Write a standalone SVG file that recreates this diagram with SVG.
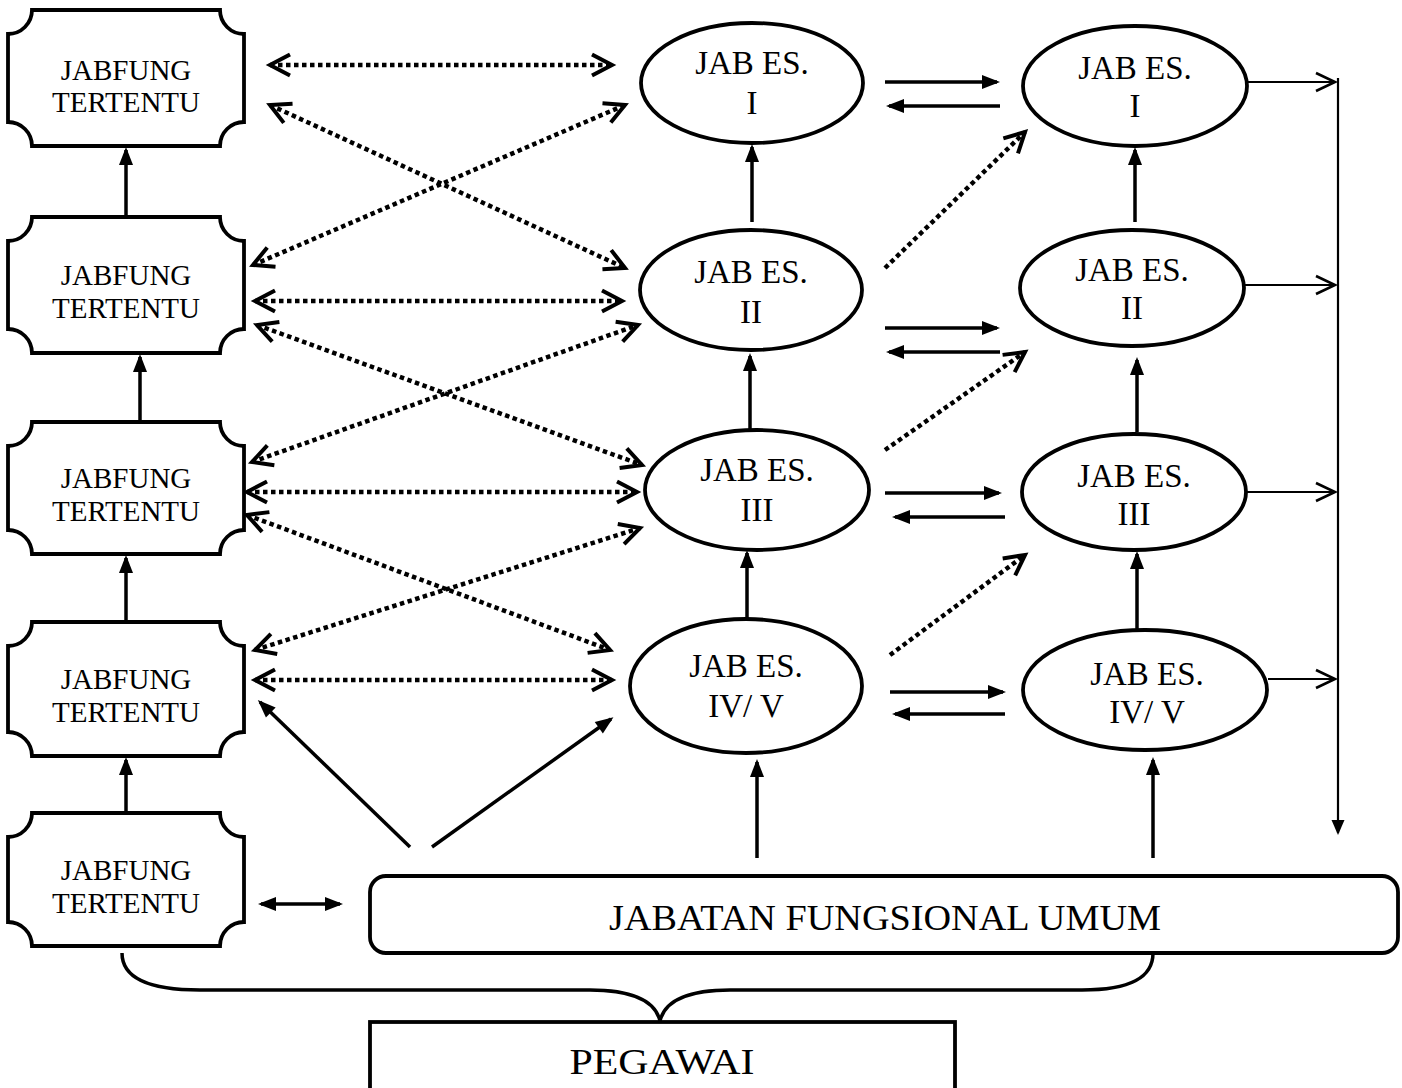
<svg xmlns="http://www.w3.org/2000/svg" width="1402" height="1088" viewBox="0 0 1402 1088">
<style>
text{font-family:"Liberation Serif","Times New Roman",serif;fill:#000;text-anchor:middle}
.bt{font-size:29px}
.et{font-size:33px}
.big{font-size:36px}
.shape{fill:#fff;stroke:#000;stroke-width:3.8}
.dot{fill:none;stroke:#000;stroke-width:4.5;stroke-dasharray:4.5 3.5}
.sol{fill:none;stroke:#000;stroke-width:3.5}
.thin{fill:none;stroke:#000;stroke-width:2.2}
.brace{fill:none;stroke:#000;stroke-width:3.5}
</style>
<defs>
<marker id="chev" markerUnits="userSpaceOnUse" markerWidth="30" markerHeight="30" refX="22" refY="12" orient="auto-start-reverse" overflow="visible">
<path d="M2,1.5 L22,12 L2,22.5" fill="none" stroke="#000" stroke-width="4"/>
</marker>
<marker id="tri" markerUnits="userSpaceOnUse" markerWidth="20" markerHeight="16" refX="15" refY="7" orient="auto-start-reverse" overflow="visible">
<path d="M0,0 L18,7 L0,14 Z" fill="#000"/>
</marker>
<marker id="tchev" markerUnits="userSpaceOnUse" markerWidth="24" markerHeight="22" refX="20" refY="9" orient="auto" overflow="visible">
<path d="M1,0 L20,9 L1,18" fill="none" stroke="#000" stroke-width="2.6"/>
</marker>
<marker id="ttri" markerUnits="userSpaceOnUse" markerWidth="16" markerHeight="14" refX="13" refY="6.5" orient="auto" overflow="visible">
<path d="M0,0 L15,6.5 L0,13 Z" fill="#000"/>
</marker>
</defs>

<g id="connectors">
<line class="sol" x1="126" y1="217" x2="126" y2="150" marker-end="url(#tri)"/>
<line class="sol" x1="140" y1="422" x2="140" y2="357" marker-end="url(#tri)"/>
<line class="sol" x1="126" y1="622" x2="126" y2="558" marker-end="url(#tri)"/>
<line class="sol" x1="126" y1="813" x2="126" y2="760" marker-end="url(#tri)"/>
<line class="sol" x1="752" y1="222" x2="752" y2="147" marker-end="url(#tri)"/>
<line class="sol" x1="750" y1="430" x2="750" y2="356" marker-end="url(#tri)"/>
<line class="sol" x1="747" y1="619" x2="747" y2="553" marker-end="url(#tri)"/>
<line class="sol" x1="1135" y1="222" x2="1135" y2="150" marker-end="url(#tri)"/>
<line class="sol" x1="1137" y1="432" x2="1137" y2="360" marker-end="url(#tri)"/>
<line class="sol" x1="1137" y1="630" x2="1137" y2="554" marker-end="url(#tri)"/>
<line class="sol" x1="757" y1="858" x2="757" y2="762" marker-end="url(#tri)"/>
<line class="sol" x1="1153" y1="858" x2="1153" y2="760" marker-end="url(#tri)"/>
<line class="sol" x1="885" y1="82" x2="997" y2="82" marker-end="url(#tri)"/>
<line class="sol" x1="1000" y1="106" x2="889" y2="106" marker-end="url(#tri)"/>
<line class="sol" x1="885" y1="328" x2="997" y2="328" marker-end="url(#tri)"/>
<line class="sol" x1="1000" y1="352" x2="889" y2="352" marker-end="url(#tri)"/>
<line class="sol" x1="885" y1="493" x2="999" y2="493" marker-end="url(#tri)"/>
<line class="sol" x1="1005" y1="517" x2="895" y2="517" marker-end="url(#tri)"/>
<line class="sol" x1="890" y1="692" x2="1003" y2="692" marker-end="url(#tri)"/>
<line class="sol" x1="1005" y1="714" x2="895" y2="714" marker-end="url(#tri)"/>
<line class="dot" x1="885" y1="268" x2="1025" y2="132" marker-end="url(#chev)"/>
<line class="dot" x1="885" y1="450" x2="1025" y2="352" marker-end="url(#chev)"/>
<line class="dot" x1="890" y1="655" x2="1025" y2="555" marker-end="url(#chev)"/>
<line class="dot" x1="270" y1="65" x2="612" y2="65" marker-start="url(#chev)" marker-end="url(#chev)"/>
<line class="dot" x1="270" y1="105" x2="625" y2="268" marker-start="url(#chev)" marker-end="url(#chev)"/>
<line class="dot" x1="253" y1="265" x2="625" y2="105" marker-start="url(#chev)" marker-end="url(#chev)"/>
<line class="dot" x1="255" y1="301" x2="622" y2="301" marker-start="url(#chev)" marker-end="url(#chev)"/>
<line class="dot" x1="257" y1="325" x2="642" y2="465" marker-start="url(#chev)" marker-end="url(#chev)"/>
<line class="dot" x1="252" y1="462" x2="638" y2="325" marker-start="url(#chev)" marker-end="url(#chev)"/>
<line class="dot" x1="247" y1="492" x2="637" y2="492" marker-start="url(#chev)" marker-end="url(#chev)"/>
<line class="dot" x1="247" y1="515" x2="610" y2="650" marker-start="url(#chev)" marker-end="url(#chev)"/>
<line class="dot" x1="255" y1="650" x2="640" y2="528" marker-start="url(#chev)" marker-end="url(#chev)"/>
<line class="dot" x1="255" y1="680" x2="612" y2="680" marker-start="url(#chev)" marker-end="url(#chev)"/>
<line class="sol" x1="410" y1="847" x2="260" y2="702" marker-end="url(#tri)"/>
<line class="sol" x1="432" y1="847" x2="611" y2="719" marker-end="url(#tri)"/>
<line class="sol" x1="261" y1="904" x2="340" y2="904" marker-start="url(#tri)" marker-end="url(#tri)"/>
<line class="thin" x1="1247" y1="82" x2="1335" y2="82" marker-end="url(#tchev)"/>
<line class="thin" x1="1245" y1="285" x2="1335" y2="285" marker-end="url(#tchev)"/>
<line class="thin" x1="1245" y1="492" x2="1335" y2="492" marker-end="url(#tchev)"/>
<line class="thin" x1="1268" y1="679" x2="1335" y2="679" marker-end="url(#tchev)"/>
<line class="thin" x1="1338" y1="78" x2="1338" y2="833" marker-end="url(#ttri)"/>
<path class="brace" d="M122,953 C122,978 150,990 200,990 L590,990 C632,990 655,1000 660,1021 C665,1000 688,990 730,990 L1082,990 C1130,990 1153,978 1153,953"/>
</g>

<g id="jabfung1">
<path class="shape" d="M32,10 H220 A24,24 0 0 0 244,34 V122 A24,24 0 0 0 220,146 H32 A24,24 0 0 0 8,122 V34 A24,24 0 0 0 32,10 Z"/>
<text class="bt" x="126" y="80">JABFUNG</text>
<text class="bt" x="126" y="112">TERTENTU</text>
</g>
<g id="jabfung2">
<path class="shape" d="M32,217 H220 A24,24 0 0 0 244,241 V329 A24,24 0 0 0 220,353 H32 A24,24 0 0 0 8,329 V241 A24,24 0 0 0 32,217 Z"/>
<text class="bt" x="126" y="285">JABFUNG</text>
<text class="bt" x="126" y="318">TERTENTU</text>
</g>
<g id="jabfung3">
<path class="shape" d="M32,422 H220 A24,24 0 0 0 244,446 V530 A24,24 0 0 0 220,554 H32 A24,24 0 0 0 8,530 V446 A24,24 0 0 0 32,422 Z"/>
<text class="bt" x="126" y="488">JABFUNG</text>
<text class="bt" x="126" y="521">TERTENTU</text>
</g>
<g id="jabfung4">
<path class="shape" d="M32,622 H220 A24,24 0 0 0 244,646 V732 A24,24 0 0 0 220,756 H32 A24,24 0 0 0 8,732 V646 A24,24 0 0 0 32,622 Z"/>
<text class="bt" x="126" y="689">JABFUNG</text>
<text class="bt" x="126" y="722">TERTENTU</text>
</g>
<g id="jabfung5">
<path class="shape" d="M32,813 H220 A24,24 0 0 0 244,837 V922 A24,24 0 0 0 220,946 H32 A24,24 0 0 0 8,922 V837 A24,24 0 0 0 32,813 Z"/>
<text class="bt" x="126" y="880">JABFUNG</text>
<text class="bt" x="126" y="913">TERTENTU</text>
</g>

<g id="es1-mid">
<ellipse class="shape" cx="752" cy="83" rx="111" ry="60"/>
<text class="et" x="752" y="74">JAB ES.</text>
<text class="et" x="752" y="114">I</text>
</g>
<g id="es2-mid">
<ellipse class="shape" cx="751" cy="290" rx="111" ry="60"/>
<text class="et" x="751" y="283">JAB ES.</text>
<text class="et" x="751" y="323">II</text>
</g>
<g id="es3-mid">
<ellipse class="shape" cx="757" cy="490" rx="112" ry="60"/>
<text class="et" x="757" y="481">JAB ES.</text>
<text class="et" x="757" y="521">III</text>
</g>
<g id="es4-mid">
<ellipse class="shape" cx="746" cy="686" rx="116" ry="67"/>
<text class="et" x="746" y="677">JAB ES.</text>
<text class="et" x="746" y="717">IV/ V</text>
</g>

<g id="es1-right">
<ellipse class="shape" cx="1135" cy="86" rx="112" ry="60"/>
<text class="et" x="1135" y="79">JAB ES.</text>
<text class="et" x="1135" y="117">I</text>
</g>
<g id="es2-right">
<ellipse class="shape" cx="1132" cy="288" rx="112" ry="58"/>
<text class="et" x="1132" y="281">JAB ES.</text>
<text class="et" x="1132" y="319">II</text>
</g>
<g id="es3-right">
<ellipse class="shape" cx="1134" cy="492" rx="112" ry="58"/>
<text class="et" x="1134" y="487">JAB ES.</text>
<text class="et" x="1134" y="525">III</text>
</g>
<g id="es4-right">
<ellipse class="shape" cx="1145" cy="690" rx="122" ry="60"/>
<text class="et" x="1147" y="685">JAB ES.</text>
<text class="et" x="1147" y="723">IV/ V</text>
</g>

<g id="jfu">
<rect class="shape" x="370" y="876" width="1028" height="77" rx="16"/>
<text class="big" x="885" y="930" textLength="552" lengthAdjust="spacingAndGlyphs">JABATAN FUNGSIONAL UMUM</text>
</g>
<g id="pegawai">
<rect class="shape" x="370" y="1022" width="585" height="90"/>
<text class="big" x="662" y="1074" textLength="185" lengthAdjust="spacingAndGlyphs">PEGAWAI</text>
</g>
</svg>
